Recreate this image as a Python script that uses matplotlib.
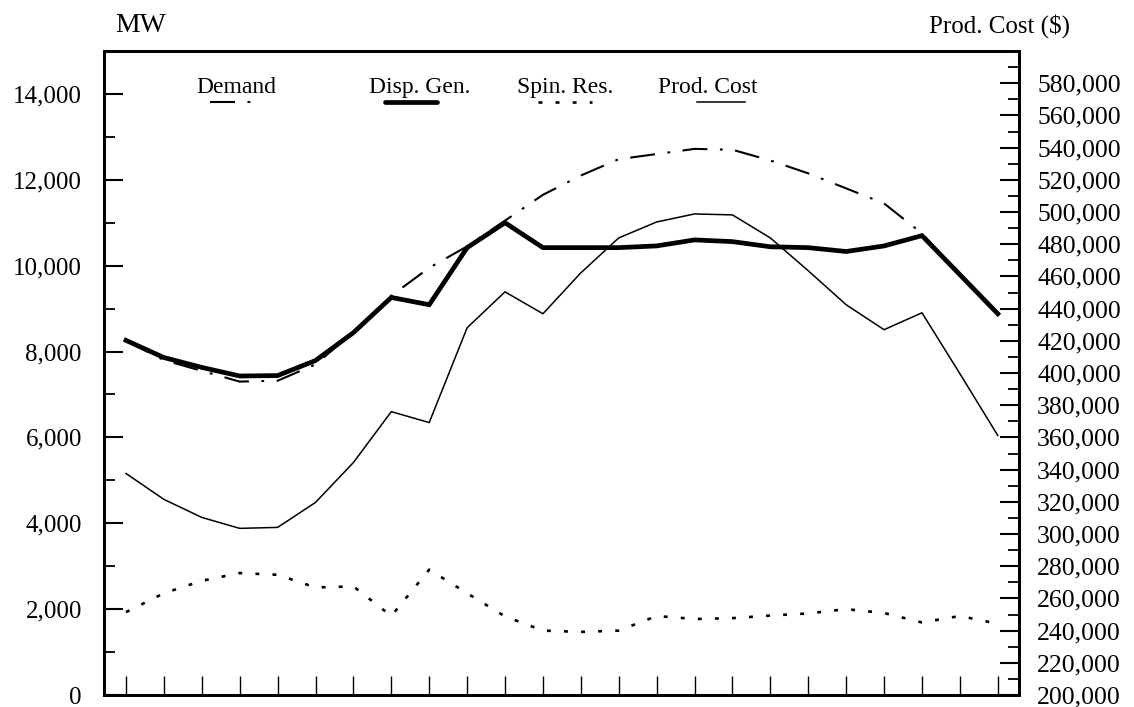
import matplotlib
matplotlib.use("Agg")
import matplotlib.pyplot as plt
from matplotlib.ticker import MultipleLocator, FixedLocator, FuncFormatter
from matplotlib.lines import Line2D

plt.rcParams['font.family'] = ['Liberation Serif', 'DejaVu Serif']
plt.rcParams['lines.scale_dashes'] = False

hours = list(range(1, 25))

demand = [8250, 7800, 7550, 7300, 7320, 7700, 8450, 9300, 9950, 10450, 11050, 11650,
          12100, 12480, 12600, 12720, 12700, 12450, 12150, 11800, 11450, 10750, 9790, 8880]
disp_gen = [8260, 7860, 7630, 7430, 7440, 7790, 8440, 9260, 9090, 10420, 11000, 10420,
            10420, 10420, 10460, 10600, 10560, 10440, 10420, 10330, 10460, 10700, 9790, 8880]
spin_res = [1930, 2370, 2660, 2840, 2800, 2505, 2530, 1840, 2920, 2370, 1830, 1500,
            1470, 1500, 1840, 1770, 1790, 1850, 1900, 2000, 1910, 1690, 1840, 1660]
prod_cost = [337600, 321500, 310300, 303500, 304100, 319600, 344400, 376000, 369200, 428100,
             450400, 436800, 462200, 483900, 493800, 498800, 498200, 483900, 463500, 442400,
             426900, 437400, 399600, 361200]

series_names = ["Demand", "Disp. Gen.", "Spin. Res.", "Prod. Cost"]

W, H = 1134, 707
fig = plt.figure(figsize=(W / 100, H / 100), dpi=100)
fig.patch.set_facecolor("white")

L, R, T, B = 104, 1019, 51, 695
ax = fig.add_axes([L / W, 1 - B / H, (R - L) / W, (B - T) / H])
ax2 = ax.twinx()

demand_style = dict(color="black", lw=1.5, dashes=(18, 9, 2, 9))
disp_style = dict(color="black", lw=3.4, solid_joinstyle="miter")
spin_style = dict(color="black", lw=1.9, dashes=(2.8, 9.5))
cost_style = dict(color="black", lw=1.1)

ax.plot(hours, demand, **demand_style)
ax.plot(hours, disp_gen, **disp_style)
ax.plot(hours, spin_res, **spin_style)
ax2.plot(hours, prod_cost, **cost_style)

ax.set_xlim(0.42, 24.56)
ax.set_ylim(0, 15000)
ax2.set_ylim(200000, 600000)

fmt = FuncFormatter(lambda v, p: f"{int(round(v)):,}")

ax.xaxis.set_major_locator(FixedLocator(hours))
ax.tick_params(axis="x", direction="in", length=14, width=1.0, labelbottom=False, top=False)

ax.yaxis.set_major_locator(MultipleLocator(2000))
ax.yaxis.set_minor_locator(MultipleLocator(1000))
ax.yaxis.set_major_formatter(fmt)
ax.tick_params(axis="y", which="major", direction="in", length=14, width=1.5,
               labelsize=18, pad=16, right=False)
ax.tick_params(axis="y", which="minor", direction="in", length=8, width=1.3, right=False)

ax2.yaxis.set_major_locator(FixedLocator(range(200000, 600000, 20000)))
ax2.yaxis.set_minor_locator(MultipleLocator(10000))
ax2.yaxis.set_major_formatter(fmt)
ax2.tick_params(axis="y", which="major", direction="in", length=14, width=1.5,
                labelsize=18.5, pad=13)
ax2.tick_params(axis="y", which="minor", direction="in", length=8, width=1.3)

for a in (ax, ax2):
    for s in a.spines.values():
        s.set_linewidth(2.0)
        s.set_color("black")

# Axis titles
fig.text(115 / W, 1 - 32 / H, "MW", fontsize=20, ha="left", va="baseline")
fig.text(1070 / W, 1 - 33 / H, "Prod. Cost ($)", fontsize=18, ha="right", va="baseline")

# Legend row: labels with line samples underneath
legend_items = [
    (236, 210, 258, demand_style),
    (420, 385, 437, disp_style),
    (565, 538, 592, spin_style),
    (708, 697, 745, cost_style),
]
for name, (cx, x0, x1, style) in zip(series_names, legend_items):
    fig.text(cx / W, 1 - 93 / H, name, fontsize=17, ha="center", va="baseline")
    st = dict(style)
    if st.get("lw", 1) > 3:
        st["solid_capstyle"] = "round"
    fig.add_artist(Line2D([x0 / W, x1 / W], [1 - 102 / H, 1 - 102 / H],
                          transform=fig.transFigure, **st))

fig.savefig("out.png", dpi=100, facecolor="white")
